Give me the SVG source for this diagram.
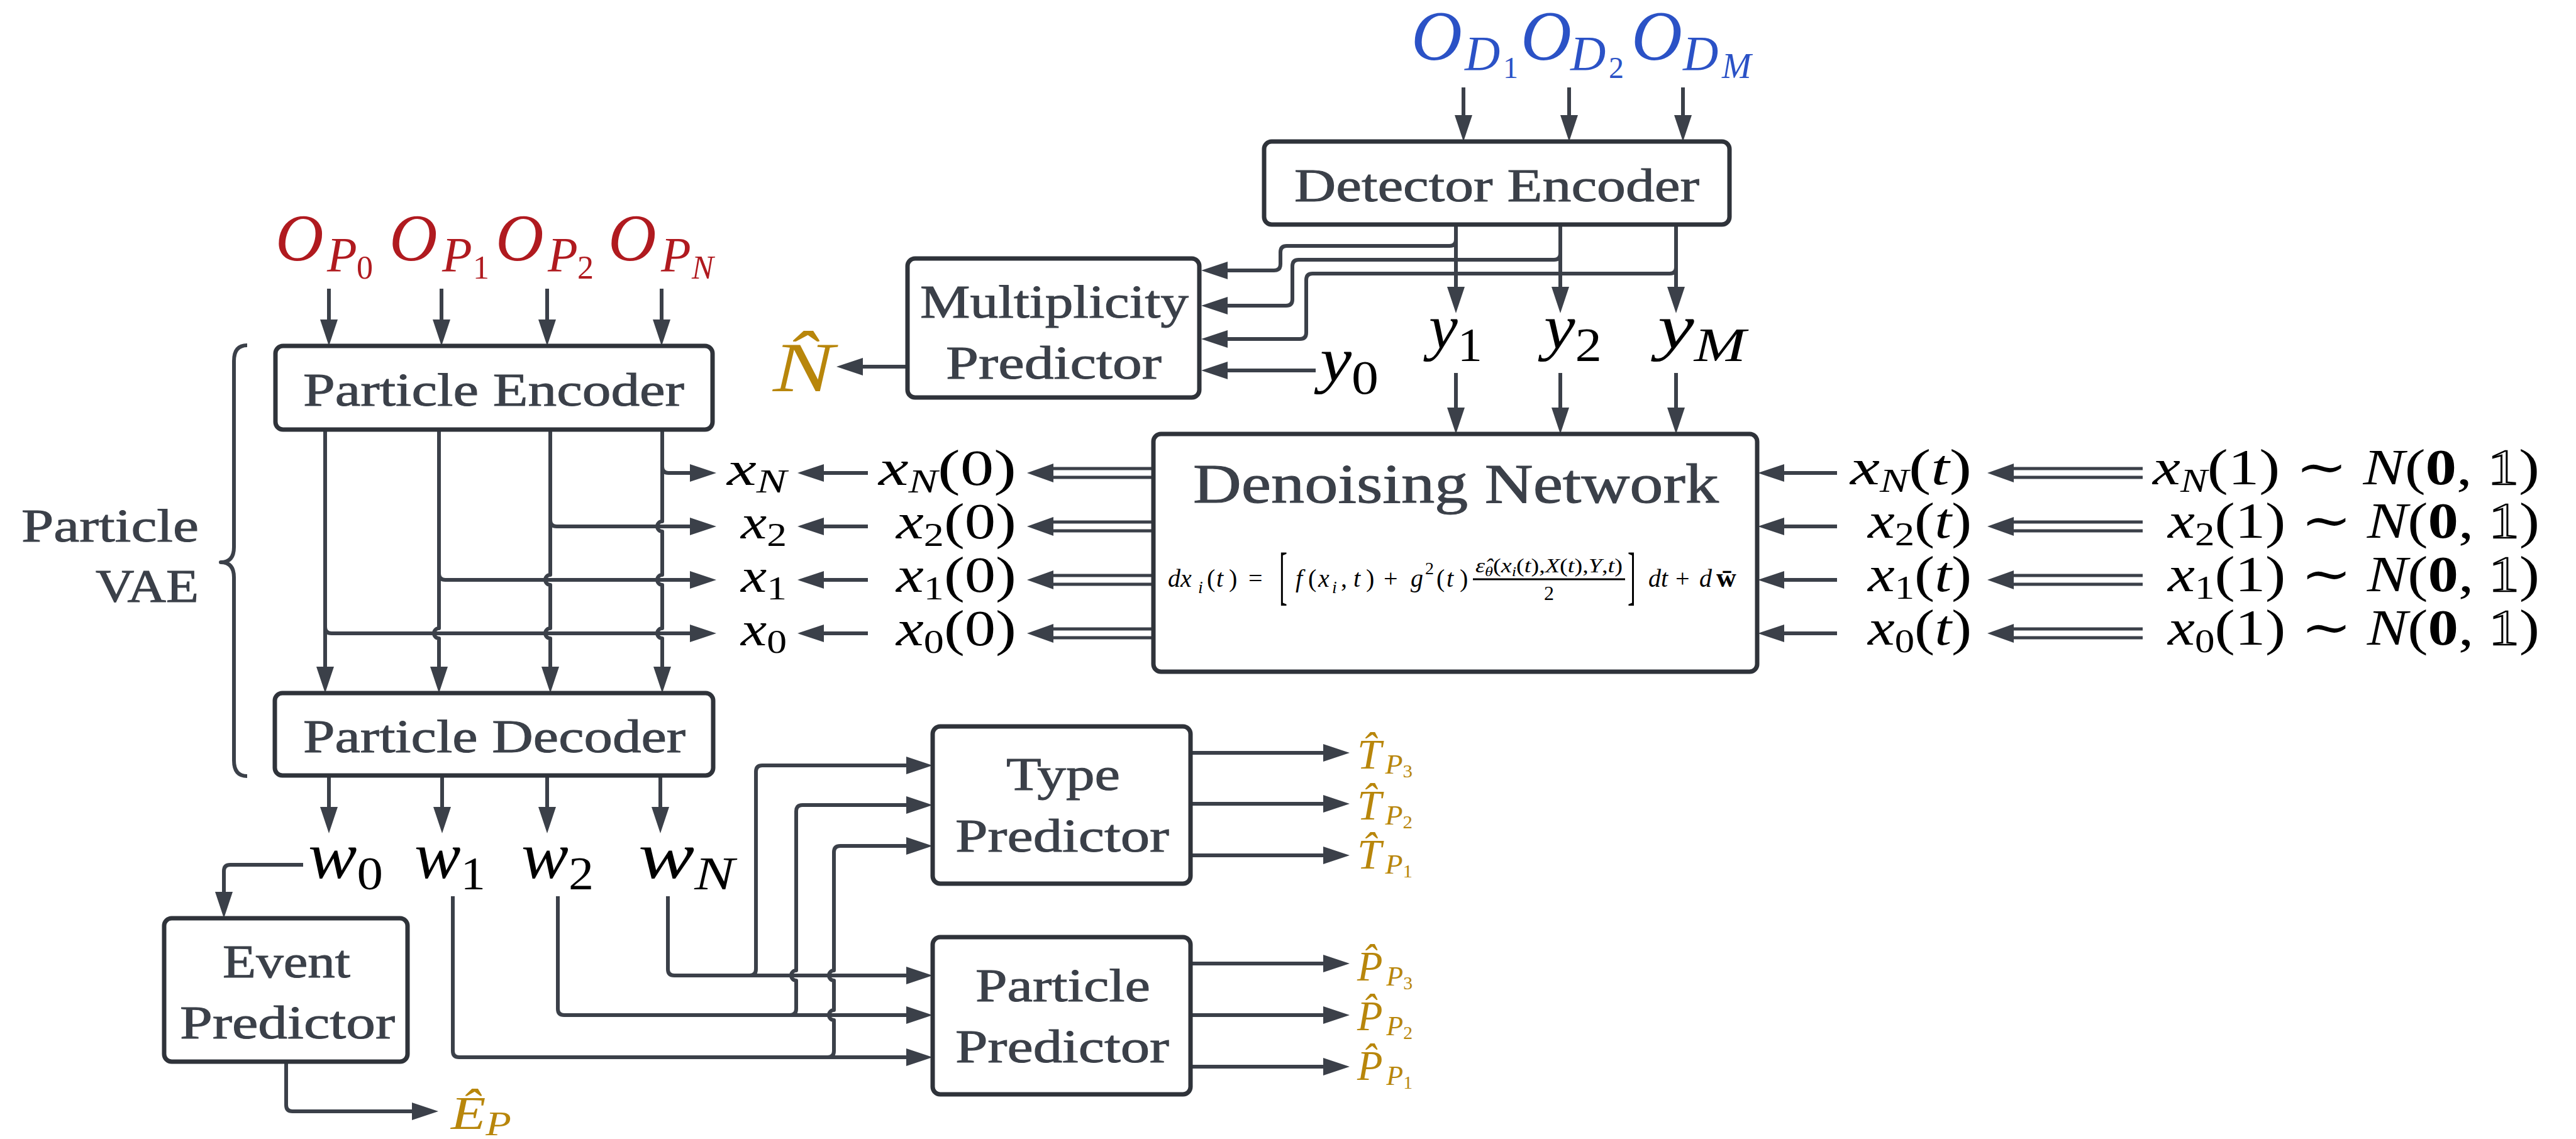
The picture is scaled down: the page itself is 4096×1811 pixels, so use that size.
<svg xmlns="http://www.w3.org/2000/svg" width="4096" height="1811" viewBox="0 0 4096 1811">
<defs>
<style>
.t{font-family:"Liberation Serif","DejaVu Serif",serif;fill:#3b4049;stroke:#3b4049;stroke-width:1}
.m{font-family:"Liberation Serif","DejaVu Serif",serif;font-style:italic;fill:#000}
.u{font-style:normal}
.red{fill:#b01a1f}
.blue{fill:#2b52c6}
.gold{fill:#b8860b}
.c{fill:none;stroke:#3b4049;stroke-width:6;stroke-linejoin:round}
.a{marker-end:url(#ah)}
.d{fill:none;stroke:#3b4049;stroke-width:5}
.h{fill:#3b4049}
.box{fill:#fff;stroke:#2f333a;stroke-width:7}
.ol{fill:#fff;stroke:#000;stroke-width:2.5}
</style>
<marker id="ah" viewBox="0 0 42 28" refX="32" refY="14" markerWidth="42" markerHeight="28" markerUnits="userSpaceOnUse" orient="auto"><path d="M0,0 L42,14 L0,28 Z" fill="#3b4049"/></marker>
</defs>
<rect width="4096" height="1811" fill="#fff"/>

<g id="connectors">
<path class="c a" d="M2327 139 V215"/>
<path class="c a" d="M2495 139 V215"/>
<path class="c a" d="M2676 139 V215"/>
<path class="c a" d="M2315 357 V488"/>
<path class="c a" d="M2481 357 V488"/>
<path class="c a" d="M2665 357 V488"/>
<path class="c a" d="M2315 381 Q2315 391 2305 391 H2046 Q2036 391 2036 401 V420 Q2036 430 2026 430 H1920"/>
<path class="c a" d="M2481 403 Q2481 413 2471 413 H2065 Q2055 413 2055 423 V476 Q2055 486 2045 486 H1920"/>
<path class="c a" d="M2665 425 Q2665 435 2655 435 H2087 Q2077 435 2077 445 V529 Q2077 539 2067 539 H1920"/>
<path class="c a" d="M2092 589 H1920"/>
<path class="c a" d="M1443 583 H1340"/>
<path class="c a" d="M2315 593 V680"/>
<path class="c a" d="M2481 593 V680"/>
<path class="c a" d="M2665 593 V680"/>
<path class="c a" d="M523 459 V540"/>
<path class="c a" d="M702 459 V540"/>
<path class="c a" d="M870 459 V540"/>
<path class="c a" d="M1052 459 V540"/>
<path class="c a" d="M517 683 V1092"/>
<path class="c a" d="M698 683 V999 A8 8 0 0 0 698 1015 V1092"/>
<path class="c a" d="M875 683 V914 A8 8 0 0 0 875 930 V999 A8 8 0 0 0 875 1015 V1092"/>
<path class="c a" d="M1053 683 V829 A8 8 0 0 0 1053 845 V914 A8 8 0 0 0 1053 930 V999 A8 8 0 0 0 1053 1015 V1092"/>
<path class="c a" d="M1053 742 Q1053 752 1063 752 H1129"/>
<path class="c a" d="M875 827 Q875 837 885 837 H1129"/>
<path class="c a" d="M698 912 Q698 922 708 922 H1129"/>
<path class="c a" d="M517 997 Q517 1007 527 1007 H1129"/>
<path class="c a" d="M1380 752 H1278"/>
<path class="c a" d="M1380 837 H1278"/>
<path class="c a" d="M1380 922 H1278"/>
<path class="c a" d="M1380 1007 H1278"/>
<path class="d" d="M1834 745 H1668 M1834 759 H1668 M1834 830 H1668 M1834 844 H1668 M1834 915 H1668 M1834 929 H1668 M1834 1000 H1668 M1834 1014 H1668"/>
<polygon class="h" points="1633,752 1675,737 1675,767"/>
<polygon class="h" points="1633,837 1675,822 1675,852"/>
<polygon class="h" points="1633,922 1675,907 1675,937"/>
<polygon class="h" points="1633,1007 1675,992 1675,1022"/>
<path class="c a" d="M2921 752 H2805"/>
<path class="c a" d="M2921 837 H2805"/>
<path class="c a" d="M2921 922 H2805"/>
<path class="c a" d="M2921 1007 H2805"/>
<path class="d" d="M3407 745 H3196 M3407 759 H3196 M3407 830 H3196 M3407 844 H3196 M3407 915 H3196 M3407 929 H3196 M3407 1000 H3196 M3407 1014 H3196"/>
<polygon class="h" points="3160,752 3202,737 3202,767"/>
<polygon class="h" points="3160,837 3202,822 3202,852"/>
<polygon class="h" points="3160,922 3202,907 3202,937"/>
<polygon class="h" points="3160,1007 3202,992 3202,1022"/>
<path class="c a" d="M523 1233 V1315"/>
<path class="c a" d="M703 1233 V1315"/>
<path class="c a" d="M870 1233 V1315"/>
<path class="c a" d="M1050 1233 V1315"/>
<path class="c a" d="M482 1375 H366 Q356 1375 356 1385 V1450"/>
<path class="c a" d="M455 1688 V1757 Q455 1767 465 1767 H687"/>
<path class="c a" d="M1062 1425 V1541 Q1062 1551 1072 1551 H1473"/>
<path class="c a" d="M1192 1551 Q1202 1551 1202 1541 V1227 Q1202 1217 1212 1217 H1473"/>
<path class="c a" d="M887 1425 V1604 Q887 1614 897 1614 H1473"/>
<path class="c a" d="M1256 1614 Q1266 1614 1266 1604 V1559 A8 8 0 0 1 1266 1543 V1290 Q1266 1280 1276 1280 H1473"/>
<path class="c a" d="M720 1425 V1671 Q720 1681 730 1681 H1473"/>
<path class="c a" d="M1316 1681 Q1326 1681 1326 1671 V1622 A8 8 0 0 1 1326 1606 V1559 A8 8 0 0 1 1326 1543 V1355 Q1326 1345 1336 1345 H1473"/>
<path class="c a" d="M1893 1197 H2136"/>
<path class="c a" d="M1893 1278 H2136"/>
<path class="c a" d="M1893 1360 H2136"/>
<path class="c a" d="M1893 1532 H2136"/>
<path class="c a" d="M1893 1614 H2136"/>
<path class="c a" d="M1893 1696 H2136"/>
<path class="c" d="M393 549 Q372 549 372 574 V870 Q372 894 351 894 Q372 894 372 918 V1209 Q372 1234 393 1234"/>
</g>

<g id="detector-encoder">
<rect class="box" x="2010" y="225" width="740" height="132" rx="12"/>
<text class="t" x="2058" y="320" font-size="74" textLength="644" lengthAdjust="spacingAndGlyphs">Detector Encoder</text>
</g>
<g id="multiplicity-predictor">
<rect class="box" x="1443" y="411" width="464" height="221" rx="12"/>
<text class="t" x="1463" y="505" font-size="74" textLength="427" lengthAdjust="spacingAndGlyphs">Multiplicity</text>
<text class="t" x="1504" y="602" font-size="74" textLength="343" lengthAdjust="spacingAndGlyphs">Predictor</text>
</g>
<g id="particle-encoder">
<rect class="box" x="438" y="550" width="695" height="133" rx="12"/>
<text class="t" x="482" y="645" font-size="74" textLength="606" lengthAdjust="spacingAndGlyphs">Particle Encoder</text>
</g>
<g id="particle-decoder">
<rect class="box" x="437" y="1102" width="697" height="131" rx="12"/>
<text class="t" x="482" y="1196" font-size="74" textLength="608" lengthAdjust="spacingAndGlyphs">Particle Decoder</text>
</g>
<g id="particle-vae">
<text class="t" x="34" y="861" font-size="74" textLength="282" lengthAdjust="spacingAndGlyphs">Particle</text>
<text class="t" x="152" y="957" font-size="74" textLength="164" lengthAdjust="spacingAndGlyphs">VAE</text>
</g>
<g id="denoising-network">
<rect class="box" x="1834" y="690" width="960" height="378" rx="12"/>
<text class="t" x="1897" y="799" font-size="88" textLength="836" lengthAdjust="spacingAndGlyphs">Denoising Network</text>
<text class="m" font-size="40"><tspan x="1857" y="933">dx</tspan><tspan x="1905" y="943" font-size="28">i</tspan><tspan class="u" x="1919" y="933">(</tspan><tspan x="1934" y="933">t</tspan><tspan class="u" x="1954" y="933">)</tspan><tspan class="u" x="1985" y="933">=</tspan></text>
<text class="m u" transform="translate(2034 949) scale(0.38 1)" font-size="102">[</text>
<text class="m" font-size="40"><tspan x="2060" y="933">f</tspan><tspan class="u" x="2080" y="933">(</tspan><tspan x="2096" y="933">x</tspan><tspan x="2118" y="943" font-size="28">i</tspan><tspan class="u" x="2132" y="933">,</tspan><tspan x="2152" y="933">t</tspan><tspan class="u" x="2172" y="933">)</tspan><tspan class="u" x="2200" y="933">+</tspan><tspan x="2243" y="933">g</tspan><tspan class="u" x="2266" y="913" font-size="28">2</tspan><tspan class="u" x="2284" y="933">(</tspan><tspan x="2300" y="933">t</tspan><tspan class="u" x="2321" y="933">)</tspan></text>
<line x1="2342" y1="921" x2="2584" y2="921" stroke="#000" stroke-width="3"/>
<text class="m" x="2346" y="910" font-size="32" textLength="234" lengthAdjust="spacingAndGlyphs">ε&#x302;<tspan font-size="22" dy="6">θ</tspan><tspan class="u" dy="-6">(</tspan>x<tspan font-size="22" dy="6">i</tspan><tspan class="u" dy="-6">(</tspan>t<tspan class="u">),</tspan>X<tspan class="u">(</tspan>t<tspan class="u">),</tspan>Y<tspan class="u">,</tspan>t<tspan class="u">)</tspan></text>
<text class="m u" x="2455" y="954" font-size="32">2</text>
<text class="m u" transform="translate(2588 949) scale(0.38 1)" font-size="102">]</text>
<text class="m" font-size="40"><tspan x="2621" y="933">dt</tspan><tspan class="u" x="2664" y="933">+</tspan><tspan x="2702" y="933">d</tspan><tspan class="u" x="2729" y="933" font-size="44" font-weight="bold">w&#x304;</tspan></text>
</g>
<g id="type-predictor">
<rect class="box" x="1483" y="1155" width="410" height="250" rx="12"/>
<text class="t" x="1600" y="1256" font-size="74" textLength="181" lengthAdjust="spacingAndGlyphs">Type</text>
<text class="t" x="1519" y="1354" font-size="74" textLength="340" lengthAdjust="spacingAndGlyphs">Predictor</text>
</g>
<g id="particle-predictor">
<rect class="box" x="1483" y="1490" width="410" height="250" rx="12"/>
<text class="t" x="1551" y="1592" font-size="74" textLength="278" lengthAdjust="spacingAndGlyphs">Particle</text>
<text class="t" x="1519" y="1689" font-size="74" textLength="340" lengthAdjust="spacingAndGlyphs">Predictor</text>
</g>
<g id="event-predictor">
<rect class="box" x="261" y="1460" width="387" height="228" rx="12"/>
<text class="t" x="354" y="1554" font-size="74" textLength="203" lengthAdjust="spacingAndGlyphs">Event</text>
<text class="t" x="286" y="1651" font-size="74" textLength="342" lengthAdjust="spacingAndGlyphs">Predictor</text>
</g>

<g id="detector-inputs">
<text class="m blue"><tspan x="2244" y="95" font-size="112">O</tspan><tspan x="2329" y="111" font-size="78">D</tspan><tspan class="u" x="2390" y="124" font-size="48">1</tspan><tspan x="2418" y="95" font-size="112">O</tspan><tspan x="2497" y="111" font-size="78">D</tspan><tspan class="u" x="2558" y="124" font-size="48">2</tspan><tspan x="2594" y="95" font-size="112">O</tspan><tspan x="2676" y="111" font-size="78">D</tspan><tspan x="2738" y="124" font-size="56">M</tspan></text>
</g>
<g id="particle-inputs">
<text class="m red"><tspan x="438" y="414" font-size="106">O</tspan><tspan x="520" y="431" font-size="78">P</tspan><tspan class="u" x="567" y="443" font-size="52">0</tspan><tspan x="619" y="414" font-size="106">O</tspan><tspan x="703" y="431" font-size="78">P</tspan><tspan class="u" x="752" y="443" font-size="52">1</tspan><tspan x="788" y="414" font-size="106">O</tspan><tspan x="871" y="431" font-size="78">P</tspan><tspan class="u" x="918" y="443" font-size="52">2</tspan><tspan x="967" y="414" font-size="106">O</tspan><tspan x="1051" y="431" font-size="78">P</tspan><tspan x="1100" y="443" font-size="52">N</tspan></text>
</g>
<g id="n-hat">
<text class="m gold" x="1229" y="622" font-size="112" textLength="97" lengthAdjust="spacingAndGlyphs">N&#x302;</text>
</g>
<g id="y-labels">
<text class="m" x="2272" y="554" font-size="100" textLength="85" lengthAdjust="spacingAndGlyphs">y<tspan class="u" font-size="76" dy="20">1</tspan></text>
<text class="m" x="2455" y="554" font-size="100" textLength="92" lengthAdjust="spacingAndGlyphs">y<tspan class="u" font-size="76" dy="20">2</tspan></text>
<text class="m" x="2636" y="554" font-size="100" textLength="140" lengthAdjust="spacingAndGlyphs">y<tspan font-size="76" dy="20">M</tspan></text>
<text class="m" x="2099" y="606" font-size="100" textLength="93" lengthAdjust="spacingAndGlyphs">y<tspan class="u" font-size="76" dy="20">0</tspan></text>
</g>
<g id="x-labels">
<text class="m" x="1156" y="771" font-size="76" textLength="95" lengthAdjust="spacingAndGlyphs">x<tspan font-size="52" dy="12">N</tspan></text>
<text class="m" x="1178" y="856" font-size="76" textLength="73" lengthAdjust="spacingAndGlyphs">x<tspan class="u" font-size="52" dy="12">2</tspan></text>
<text class="m" x="1178" y="941" font-size="76" textLength="73" lengthAdjust="spacingAndGlyphs">x<tspan class="u" font-size="52" dy="12">1</tspan></text>
<text class="m" x="1178" y="1026" font-size="76" textLength="73" lengthAdjust="spacingAndGlyphs">x<tspan class="u" font-size="52" dy="12">0</tspan></text>
<text class="m" x="1397" y="771" font-size="80" textLength="219" lengthAdjust="spacingAndGlyphs">x<tspan font-size="52" dy="12">N</tspan><tspan class="u" dy="-12">(0)</tspan></text>
<text class="m" x="1425" y="856" font-size="80" textLength="191" lengthAdjust="spacingAndGlyphs">x<tspan class="u" font-size="52" dy="12">2</tspan><tspan class="u" dy="-12">(0)</tspan></text>
<text class="m" x="1425" y="941" font-size="80" textLength="191" lengthAdjust="spacingAndGlyphs">x<tspan class="u" font-size="52" dy="12">1</tspan><tspan class="u" dy="-12">(0)</tspan></text>
<text class="m" x="1425" y="1026" font-size="80" textLength="191" lengthAdjust="spacingAndGlyphs">x<tspan class="u" font-size="52" dy="12">0</tspan><tspan class="u" dy="-12">(0)</tspan></text>
<text class="m" x="2942" y="770" font-size="80" textLength="193" lengthAdjust="spacingAndGlyphs">x<tspan font-size="52" dy="12">N</tspan><tspan class="u" dy="-12">(</tspan>t<tspan class="u">)</tspan></text>
<text class="m" x="2970" y="855" font-size="80" textLength="165" lengthAdjust="spacingAndGlyphs">x<tspan class="u" font-size="52" dy="12">2</tspan><tspan class="u" dy="-12">(</tspan>t<tspan class="u">)</tspan></text>
<text class="m" x="2970" y="940" font-size="80" textLength="165" lengthAdjust="spacingAndGlyphs">x<tspan class="u" font-size="52" dy="12">1</tspan><tspan class="u" dy="-12">(</tspan>t<tspan class="u">)</tspan></text>
<text class="m" x="2970" y="1025" font-size="80" textLength="165" lengthAdjust="spacingAndGlyphs">x<tspan class="u" font-size="52" dy="12">0</tspan><tspan class="u" dy="-12">(</tspan>t<tspan class="u">)</tspan></text>
<text class="m" x="3423" y="770" font-size="80" textLength="615" lengthAdjust="spacingAndGlyphs">x<tspan font-size="52" dy="12">N</tspan><tspan class="u" dy="-12">(1) ∼ </tspan>N<tspan class="u">(</tspan><tspan class="u" font-weight="bold">0</tspan><tspan class="u">, </tspan><tspan class="u ol">1</tspan><tspan class="u">)</tspan></text>
<text class="m" x="3447" y="855" font-size="80" textLength="591" lengthAdjust="spacingAndGlyphs">x<tspan class="u" font-size="52" dy="12">2</tspan><tspan class="u" dy="-12">(1) ∼ </tspan>N<tspan class="u">(</tspan><tspan class="u" font-weight="bold">0</tspan><tspan class="u">, </tspan><tspan class="u ol">1</tspan><tspan class="u">)</tspan></text>
<text class="m" x="3447" y="940" font-size="80" textLength="591" lengthAdjust="spacingAndGlyphs">x<tspan class="u" font-size="52" dy="12">1</tspan><tspan class="u" dy="-12">(1) ∼ </tspan>N<tspan class="u">(</tspan><tspan class="u" font-weight="bold">0</tspan><tspan class="u">, </tspan><tspan class="u ol">1</tspan><tspan class="u">)</tspan></text>
<text class="m" x="3447" y="1025" font-size="80" textLength="591" lengthAdjust="spacingAndGlyphs">x<tspan class="u" font-size="52" dy="12">0</tspan><tspan class="u" dy="-12">(1) ∼ </tspan>N<tspan class="u">(</tspan><tspan class="u" font-weight="bold">0</tspan><tspan class="u">, </tspan><tspan class="u ol">1</tspan><tspan class="u">)</tspan></text>
</g>
<g id="w-labels">
<text class="m" x="490" y="1396" font-size="105" textLength="119" lengthAdjust="spacingAndGlyphs">w<tspan class="u" font-size="75" dy="18">0</tspan></text>
<text class="m" x="659" y="1396" font-size="105" textLength="113" lengthAdjust="spacingAndGlyphs">w<tspan class="u" font-size="75" dy="18">1</tspan></text>
<text class="m" x="829" y="1396" font-size="105" textLength="115" lengthAdjust="spacingAndGlyphs">w<tspan class="u" font-size="75" dy="18">2</tspan></text>
<text class="m" x="1015" y="1396" font-size="105" textLength="153" lengthAdjust="spacingAndGlyphs">w<tspan font-size="75" dy="18">N</tspan></text>
</g>
<g id="outputs">
<text class="m gold" x="2158" y="1222" font-size="67" textLength="88" lengthAdjust="spacingAndGlyphs">T&#x302;<tspan font-size="44" dx="6" dy="8">P</tspan><tspan class="u" font-size="30" dy="6">3</tspan></text>
<text class="m gold" x="2158" y="1303" font-size="67" textLength="88" lengthAdjust="spacingAndGlyphs">T&#x302;<tspan font-size="44" dx="6" dy="8">P</tspan><tspan class="u" font-size="30" dy="6">2</tspan></text>
<text class="m gold" x="2158" y="1381" font-size="67" textLength="88" lengthAdjust="spacingAndGlyphs">T&#x302;<tspan font-size="44" dx="6" dy="8">P</tspan><tspan class="u" font-size="30" dy="6">1</tspan></text>
<text class="m gold" x="2158" y="1559" font-size="67" textLength="88" lengthAdjust="spacingAndGlyphs">P&#x302;<tspan font-size="44" dx="6" dy="8">P</tspan><tspan class="u" font-size="30" dy="6">3</tspan></text>
<text class="m gold" x="2158" y="1638" font-size="67" textLength="88" lengthAdjust="spacingAndGlyphs">P&#x302;<tspan font-size="44" dx="6" dy="8">P</tspan><tspan class="u" font-size="30" dy="6">2</tspan></text>
<text class="m gold" x="2158" y="1717" font-size="67" textLength="88" lengthAdjust="spacingAndGlyphs">P&#x302;<tspan font-size="44" dx="6" dy="8">P</tspan><tspan class="u" font-size="30" dy="6">1</tspan></text>
<text class="m gold" x="717" y="1795" font-size="75" textLength="96" lengthAdjust="spacingAndGlyphs">Ê<tspan font-size="55" dy="10">P</tspan></text>
</g>
</svg>
